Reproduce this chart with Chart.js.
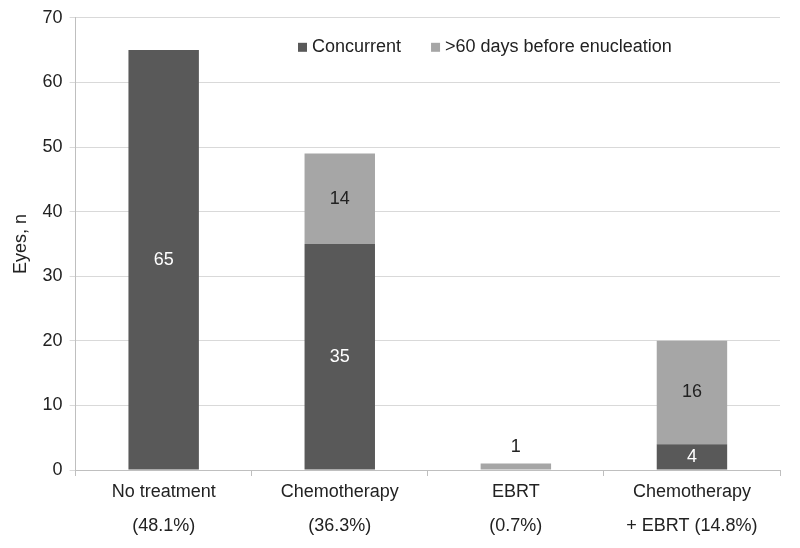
<!DOCTYPE html>
<html>
<head>
<meta charset="utf-8">
<script src="https://cdn.jsdelivr.net/npm/chart.js@4/dist/chart.umd.min.js"></script>
<style>
  html, body { margin: 0; padding: 0; background: #fff; }
  #wrap { width: 800px; height: 548px; }
</style>
</head>
<body>
<div id="wrap"><canvas id="chart" width="800" height="548"></canvas></div>
<script>
// data
const categories = [
  ['No treatment', '(48.1%)'],
  ['Chemotherapy', '(36.3%)'],
  ['EBRT', '(0.7%)'],
  ['Chemotherapy', '+ EBRT (14.8%)']
]
const concurrent = [65, 35, 0, 4]
const before60 = [0, 14, 1, 16]
const seriesNames = ['Concurrent', '>60 days before enucleation']
const yTicks = [0, 10, 20, 30, 40, 50, 60, 70]

const DARK = '#595959'
const LIGHT = '#a6a6a6'
const FONT = 'Arial, "Liberation Sans", sans-serif'

// value labels inside (or above) each stacked segment
const barLabels = {
  id: 'barLabels',
  afterDatasetsDraw(chart) {
    const ctx = chart.ctx
    ctx.save()
    ctx.font = '18px ' + FONT
    ctx.textAlign = 'center'
    ctx.textBaseline = 'middle'
    chart.data.datasets.forEach((ds, i) => {
      const meta = chart.getDatasetMeta(i)
      meta.data.forEach((bar, j) => {
        const v = ds.data[j]
        if (!v) return
        const h = Math.abs(bar.base - bar.y)
        if (h < 22) {
          ctx.fillStyle = '#222'
          ctx.fillText(String(v), bar.x, bar.y - 17)
        } else {
          ctx.fillStyle = i === 0 ? '#fff' : '#222'
          ctx.fillText(String(v), bar.x, (bar.y + bar.base) / 2)
        }
      })
    })
    ctx.restore()
  }
}

// legend drawn inside the plot area, between the top two gridlines
const innerLegend = {
  id: 'innerLegend',
  afterDraw(chart) {
    const ctx = chart.ctx
    const a = chart.chartArea
    ctx.save()
    ctx.font = '18px ' + FONT
    ctx.textBaseline = 'middle'
    const y = a.top + 29
    let x = 298
    const colors = [DARK, LIGHT]
    seriesNames.forEach((name, i) => {
      ctx.fillStyle = colors[i]
      ctx.fillRect(x, y - 4, 9, 9)
      ctx.fillStyle = '#222'
      ctx.fillText(name, x + 14, y)
      x += 14 + ctx.measureText(name).width + 30
    })
    ctx.restore()
  }
}

new Chart(document.getElementById('chart'), {
  type: 'bar',
  data: {
    labels: categories,
    datasets: [
      { label: seriesNames[0], data: concurrent, backgroundColor: DARK },
      { label: seriesNames[1], data: before60, backgroundColor: LIGHT }
    ]
  },
  options: {
    responsive: false,
    animation: false,
    datasets: { bar: { categoryPercentage: 1, barPercentage: 0.4 } },
    layout: { padding: { top: 10, right: 20, left: 10, bottom: 0 } },
    plugins: {
      legend: { display: false },
      tooltip: { enabled: false }
    },
    scales: {
      x: {
        stacked: true,
        grid: { display: true, offset: true, drawOnChartArea: false, tickLength: 6, color: '#bfbfbf' },
        border: { color: '#bfbfbf' },
        ticks: { color: '#222', font: { size: 18, family: FONT, lineHeight: 1.9 }, padding: -1, maxRotation: 0, autoSkip: false },
        afterFit(s) { s.height = 78 }
      },
      y: {
        stacked: true,
        min: 0,
        max: 70,
        afterBuildTicks(s) { s.ticks = yTicks.map(v => ({ value: v })) },
        grid: { color: '#d9d9d9', tickLength: 6 },
        border: { color: '#bfbfbf' },
        ticks: { color: '#222', font: { size: 18, family: FONT }, padding: 7 },
        title: { display: true, text: 'Eyes, n', color: '#222', font: { size: 18, family: FONT }, padding: { top: 0, bottom: 4 } }
      }
    }
  },
  plugins: [barLabels, innerLegend]
})
</script>
</body>
</html>
